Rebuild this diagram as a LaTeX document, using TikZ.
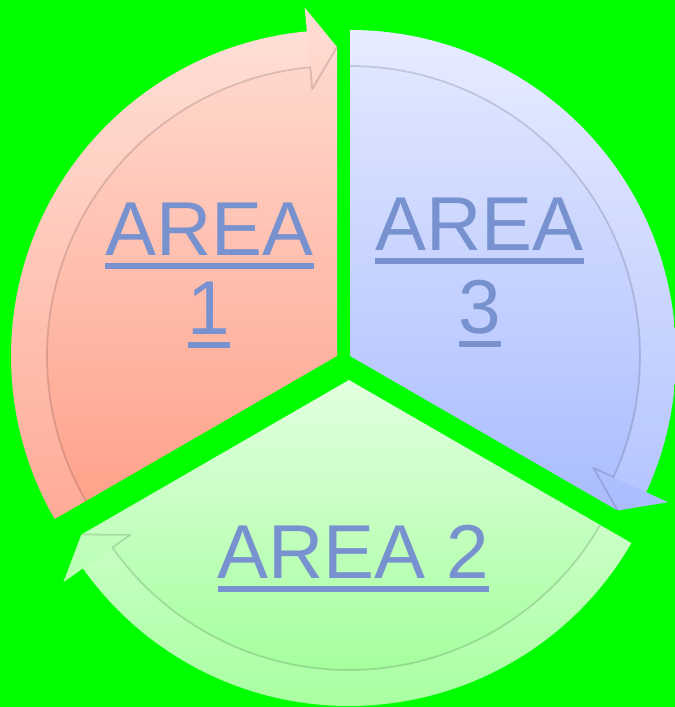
\documentclass[tikz,border=0pt]{standalone}
\usepackage{fontspec}
\setmainfont{Liberation Sans}
\usepackage{tikz}
\usetikzlibrary{calc}

\definecolor{bggreen}{RGB}{0,255,0}
\definecolor{redtop}{RGB}{255,222,213}
\definecolor{redbot}{RGB}{255,160,136}
\definecolor{bluetop}{RGB}{228,234,255}
\definecolor{bluebot}{RGB}{170,188,255}
\definecolor{greentop}{RGB}{226,255,224}
\definecolor{greenbot}{RGB}{158,255,150}
\definecolor{areablue}{RGB}{120,146,208}

\newcommand{\areaul}[1]{\setbox0\hbox{#1}\rlap{\rule[-7.4pt]{\wd0}{3.4pt}}\box0}

\begin{document}
\begin{tikzpicture}[x=0.02cm, y=0.02cm, line join=round,
  areatext/.style={text=areablue, font=\fontsize{43.5pt}{45pt}\selectfont, inner sep=0pt, anchor=base},
  bandlight/.style={white, opacity=0.12},
  bandshadow/.style={black, opacity=0.14, line width=1pt}]

\useasboundingbox (0,0) rectangle (675,707);
\clip (0,0) rectangle (675,707);
\fill[bggreen] (0,0) rectangle (675,707);

% corners of the three parts
\coordinate (c1) at (337,351);
\coordinate (c3) at (350,351);
\coordinate (c2) at (349,327);

% part 1 (red)
\shade[top color=redtop, bottom color=redbot] (c1) -- ($(c1)+(210:326)$)
  arc[start angle=210, end angle=95.3, radius=326]
  -- ($(c1)+(95.3:350)$) -- ($(c1)+(90:309)$) -- cycle;
\fill[bandlight] ($(c1)+(210:290)$) arc[start angle=210, end angle=95.3, radius=290]
  -- ($(c1)+(95.3:326)$) arc[start angle=95.3, end angle=210, radius=326] -- cycle;
\draw[bandshadow] ($(c1)+(210:290)$) arc[start angle=210, end angle=95.3, radius=290]
  -- ($(c1)+(95.3:268)$) -- ($(c1)+(90:309)$);

% part 3 (blue)
\shade[top color=bluetop, bottom color=bluebot] (c3) -- ($(c3)+(90:326)$)
  arc[start angle=90, end angle=-24.7, radius=326]
  -- ($(c3)+(-24.7:350)$) -- ($(c3)+(-30:309)$) -- cycle;
\fill[bandlight] ($(c3)+(90:290)$) arc[start angle=90, end angle=-24.7, radius=290]
  -- ($(c3)+(-24.7:326)$) arc[start angle=-24.7, end angle=90, radius=326] -- cycle;
\draw[bandshadow] ($(c3)+(90:290)$) arc[start angle=90, end angle=-24.7, radius=290]
  -- ($(c3)+(-24.7:268)$) -- ($(c3)+(-30:309)$);

% part 2 (green)
\shade[top color=greentop, bottom color=greenbot] (c2) -- ($(c2)+(-30:326)$)
  arc[start angle=-30, end angle=-144.7, radius=326]
  -- ($(c2)+(-144.7:350)$) -- ($(c2)+(-150:309)$) -- cycle;
\fill[bandlight] ($(c2)+(-30:290)$) arc[start angle=-30, end angle=-144.7, radius=290]
  -- ($(c2)+(-144.7:326)$) arc[start angle=-144.7, end angle=-30, radius=326] -- cycle;
\draw[bandshadow] ($(c2)+(-30:290)$) arc[start angle=-30, end angle=-144.7, radius=290]
  -- ($(c2)+(-144.7:268)$) -- ($(c2)+(-150:309)$);

% labels
\node[areatext] (area1word) at (209.5,451) {\areaul{AREA}};
\node[areatext] (area1num) at (209,372) {\areaul{1}};
\node[areatext] (area3word) at (479.5,456) {\areaul{AREA}};
\node[areatext] (area3num) at (480,373) {\areaul{3}};
\node[areatext] (area2word) at (353.5,128.5) {\areaul{AREA 2}};

\end{tikzpicture}
\end{document}
